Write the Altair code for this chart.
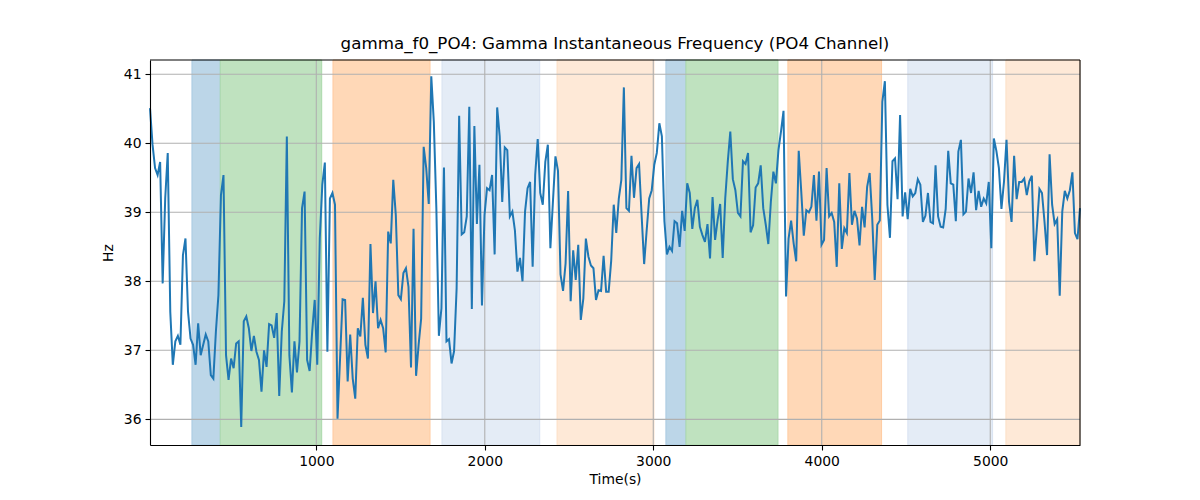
import altair as alt
import pandas as pd

# ---- data ----
hz = [
    40.51, 39.98, 39.64, 39.54, 39.73, 37.97, 39.20, 39.86, 37.56, 36.79,
    37.13, 37.21, 37.08, 38.38, 38.62, 37.56, 37.17, 37.08, 36.79, 37.39,
    36.93, 37.08, 37.23, 37.13, 36.64, 36.59, 37.27, 37.80, 39.25, 39.54,
    36.93, 36.57, 36.88, 36.74, 37.10, 37.13, 35.89, 37.42, 37.49, 37.32,
    36.99, 37.21, 36.98, 36.86, 36.40,
    37.00, 36.76, 37.38, 37.36, 37.18, 37.54, 36.34, 37.27, 37.71, 40.10,
    36.93, 36.39, 37.13, 36.68, 37.13, 39.06, 39.30, 36.86, 36.70, 37.27,
    37.73, 36.79, 38.62, 39.40, 39.72, 36.98, 39.20, 39.28, 39.11, 36.01,
    36.88, 37.74, 37.73, 36.55, 37.23, 36.59, 36.30, 37.32, 37.20, 37.76,
    37.08, 36.88, 38.54, 37.54, 38.00, 37.32,
    37.44, 37.32, 36.97, 38.72, 38.55, 39.47, 38.96, 37.80, 37.74, 38.12,
    38.19, 37.92, 36.75, 38.76, 36.63, 37.08, 37.46, 39.95, 39.64, 39.12,
    40.97, 40.31, 39.06, 37.21, 37.61, 39.65, 37.13, 37.16, 36.81, 36.99,
    37.90, 40.40, 38.68, 38.71, 38.94, 40.53, 37.60, 40.25, 38.83, 39.69,
    37.65, 38.96, 39.35, 39.32, 39.54, 38.39,
    40.52, 40.10, 39.15, 39.94, 39.90, 38.94, 39.01, 38.74, 38.14, 38.34,
    38.00, 39.01, 39.35, 39.44, 38.21, 39.54, 40.06, 39.28, 39.11, 39.73,
    39.98, 38.48, 39.15, 39.81, 39.60, 38.10, 37.86, 38.26, 39.31, 37.71,
    38.45, 38.02, 38.53, 37.44, 37.75, 38.62, 38.36, 38.23, 38.19, 37.73,
    37.87, 37.86, 38.37, 37.85, 37.85, 38.30,
    39.11, 38.70, 39.20, 39.47, 40.81, 39.06, 39.02, 39.82, 39.21, 39.64,
    39.70, 38.96, 38.25, 38.74, 39.20, 39.32, 39.69, 39.86, 40.29, 40.10,
    38.87, 38.39, 38.50, 38.44, 38.87, 38.84, 38.50, 39.02, 38.73, 39.42,
    39.28, 38.76, 39.06, 39.18, 38.79, 38.67, 38.57, 38.83, 38.33, 39.22,
    38.60, 38.89, 39.12, 38.34, 39.20, 39.73, 40.17,
    39.48, 39.32, 38.99, 38.94, 39.74, 39.70, 39.86, 38.71, 38.81, 39.36,
    39.42, 39.68, 39.06, 38.82, 38.54, 39.15, 39.59, 39.42, 39.90, 40.17,
    40.47, 37.78, 38.62, 38.88, 38.55, 38.29, 39.89, 39.30, 38.66, 39.03,
    39.00, 39.08, 39.54, 38.88, 39.59, 38.53, 38.60, 39.64, 38.94, 38.99,
    38.86, 38.21, 39.42, 38.47, 38.77, 38.70, 39.57,
    38.82, 39.02, 38.91, 38.52, 39.08, 38.78, 39.37, 39.57, 38.92, 38.02,
    38.82, 38.88, 40.60, 40.90, 39.11, 38.63, 39.74, 39.78, 39.19, 40.41,
    38.94, 39.29, 38.90, 39.34, 39.23, 39.28, 39.48, 39.40, 38.86, 38.95,
    39.28, 38.86, 38.84, 39.68, 38.94, 38.79, 38.78, 39.05, 39.89, 39.42,
    39.40, 38.87, 39.88, 40.05, 38.97, 39.01,
    39.49, 39.28, 39.58, 39.03, 39.31, 39.08, 39.20, 39.13, 39.44, 38.48,
    40.07, 39.89, 39.64, 39.05, 39.44, 40.05, 39.15, 38.86, 39.82, 39.19,
    39.44, 39.44, 39.49, 39.25, 39.45, 39.53, 38.29, 38.79, 39.34, 39.28,
    38.86, 38.38, 39.84, 39.11, 38.83, 38.90, 37.79, 39.01, 39.31, 39.20,
    39.32, 39.58, 38.70, 38.61, 39.06,
]
T_START = 13.0
T_STEP = 15.04
times = [round(T_START + i * T_STEP, 2) for i in range(len(hz))]

span_start = [262, 430, 1099, 1746, 2429, 3075, 3194, 3799, 4511, 5093]
span_end = [430, 1032, 1675, 2326, 3004, 3194, 3740, 4355, 5014, times[-1]]
span_kind = ["blue", "green", "orange", "lightblue", "lightorange",
             "blue", "green", "orange", "lightblue", "lightorange"]
kind_domain = ["blue", "green", "orange", "lightblue", "lightorange"]
kind_colors = ["#BCD6E8", "#BFE2BF", "#FFD8B7", "#E4ECF6", "#FEE9D7"]
kind_edges = ["#A9CAE2", "#ABD9AB", "#FFCBA0", "#D8E3F1", "#FCDFC6"]

x_ticks = [1000, 2000, 3000, 4000, 5000]
y_ticks = [36, 37, 38, 39, 40, 41]

X_DOMAIN = [times[0], times[-1]]
Y_DOMAIN = [35.628, 41.207]

line_df = pd.DataFrame({"t": times, "hz": hz})
span_df = pd.DataFrame({"start": span_start, "end": span_end, "kind": span_kind})
xg_df = pd.DataFrame({"t": x_ticks})
yg_df = pd.DataFrame({"hz": y_ticks})
border_x_df = pd.DataFrame({"t": [X_DOMAIN[1]]})
border_y_df = pd.DataFrame({"hz": [Y_DOMAIN[1]]})

FONT = "DejaVu Sans"
xscale = alt.Scale(domain=X_DOMAIN, nice=False, zero=False)
yscale = alt.Scale(domain=Y_DOMAIN, nice=False, zero=False)

x_axis = alt.Axis(values=x_ticks, title="Time(s)", grid=False, zindex=1,
                  format="d", labelFlush=False)
y_axis = alt.Axis(values=y_ticks, title="Hz", grid=False, zindex=1, format="d")

spans = alt.Chart(span_df).mark_rect(opacity=1, strokeWidth=1).encode(
    x=alt.X("start:Q", scale=xscale, axis=x_axis),
    x2="end:Q",
    color=alt.Color("kind:N", scale=alt.Scale(domain=kind_domain, range=kind_colors),
                    legend=None),
    stroke=alt.Stroke("kind:N", scale=alt.Scale(domain=kind_domain, range=kind_edges),
                      legend=None),
)

xgrid = alt.Chart(xg_df).mark_rule(color="#b0b0b0", strokeWidth=1.1).encode(
    x=alt.X("t:Q", scale=xscale)
)
ygrid = alt.Chart(yg_df).mark_rule(color="#b0b0b0", strokeWidth=1.1).encode(
    y=alt.Y("hz:Q", scale=yscale, axis=y_axis)
)

line = alt.Chart(line_df).mark_line(color="#1f77b4", strokeWidth=2).encode(
    x=alt.X("t:Q", scale=xscale),
    y=alt.Y("hz:Q", scale=yscale),
)

border_r = alt.Chart(border_x_df).mark_rule(color="black", strokeWidth=1.1).encode(
    x=alt.X("t:Q", scale=xscale)
)
border_t = alt.Chart(border_y_df).mark_rule(color="black", strokeWidth=1.1).encode(
    y=alt.Y("hz:Q", scale=yscale)
)

chart = alt.layer(spans, xgrid, ygrid, line, border_r, border_t).properties(
    width=930,
    height=385,
    autosize=alt.AutoSizeParams(type="none"),
    padding={"left": 142, "top": 52, "right": 112, "bottom": 47},
    title=alt.Title("gamma_f0_PO4: Gamma Instantaneous Frequency (PO4 Channel)",
                    font=FONT, fontSize=16.7, fontWeight="normal", color="black",
                    anchor="middle", offset=7),
).configure_view(
    stroke=None
).configure_axis(
    labelFont=FONT, labelFontSize=13.9, labelColor="black",
    titleFont=FONT, titleFontSize=13.9, titleFontWeight="normal", titleColor="black",
    domainColor="black", domainWidth=1.1, tickColor="black", tickWidth=1.1,
    tickSize=5, labelPadding=4,
).configure_axisX(
    titlePadding=5
).configure_axisY(
    titlePadding=8
)

chart.save("out.html", embed_options={"renderer": "svg", "actions": False})
